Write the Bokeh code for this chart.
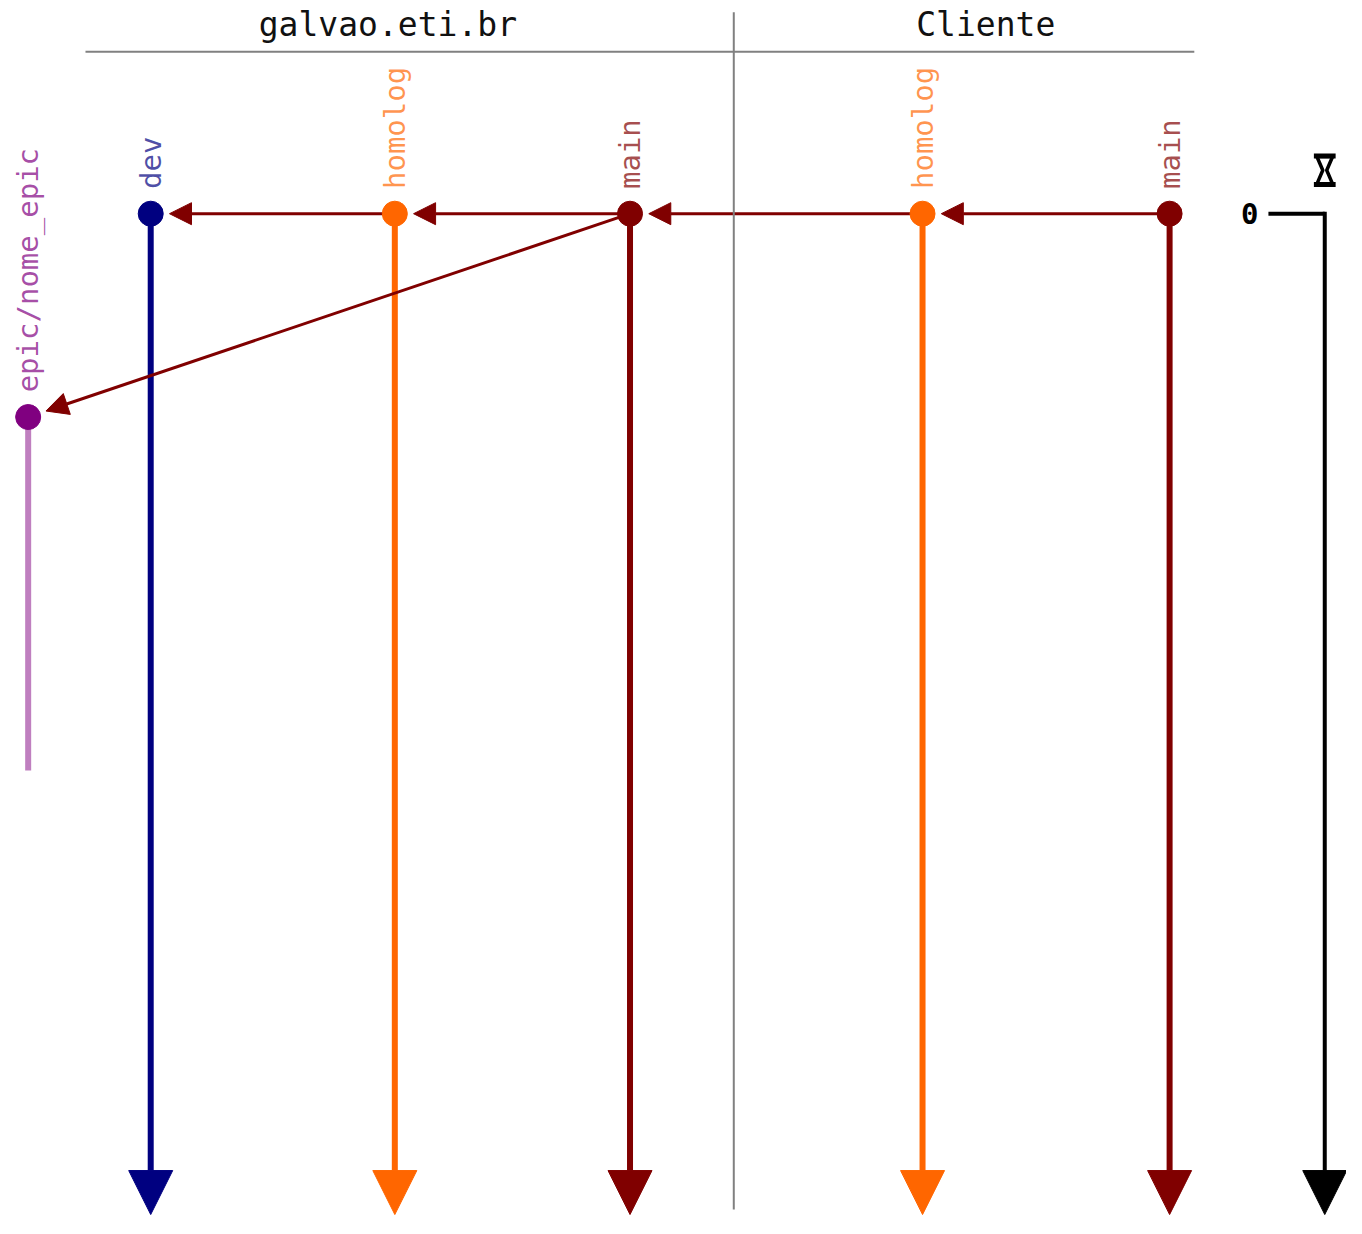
from math import pi
from bokeh.plotting import figure
from bokeh.models import Range1d, Arrow, NormalHead, ColumnDataSource
from bokeh.core.properties import value
from bokeh.embed import file_html
from bokeh.resources import INLINE

# ---- data ----
groups = ["galvao.eti.br", "Cliente"]
group_center_x = [392, 997]
group_span = [(86, 742), (742, 1208)]
separator_x = 742

branches = ["epic/nome_epic", "dev", "homolog", "main", "homolog", "main"]
branch_x = [28, 152, 399, 637, 933, 1183]
branch_colors = ["#800080", "#000080", "#ff6600", "#800000", "#ff6600", "#800000"]
branch_start_t = [2.06, 0.0, 0.0, 0.0, 0.0, 0.0]
branch_end_t = [5.64, 10.14, 10.14, 10.14, 10.14, 10.14]
branch_has_arrow = [False, True, True, True, True, True]

# merges: source branch index -> target branch index
merge_src = [5, 4, 3, 2, 3]
merge_dst = [4, 3, 2, 1, 0]
merge_color = "#800000"

time_ticks = [0]
time_tick_labels = ["0"]
time_axis_x = 1340
time_axis_end_t = 10.14

# ---- figure ----
p = figure(width=1346, height=1218, output_backend="svg", toolbar_location=None,
           x_axis_type=None, y_axis_type=None, min_border=0,
           x_range=Range1d(0, 1362), y_range=Range1d(10.18, -2.16),
           outline_line_color=None, background_fill_color="white")
p.grid.visible = False

MONO = value("DejaVu Sans Mono")

# group headers
for name, cx, (x0, x1) in zip(groups, group_center_x, group_span):
    p.text(x=[cx], y=[-1.92], text=[name], text_font=MONO, text_font_size="33px",
           text_align="center", text_baseline="middle", text_color="#111111")
    p.line(x=[x0, x1], y=[-1.64, -1.64], line_color="#808080", line_width=2)
p.line(x=[separator_x, separator_x], y=[-2.04, 10.09], line_color="#808080", line_width=2)

# branch lines
for x, c, t0, t1, arr in zip(branch_x, branch_colors, branch_start_t, branch_end_t, branch_has_arrow):
    if arr:
        a = Arrow(end=NormalHead(size=44, fill_color=c, line_color=c, line_width=1),
                  x_start=x, y_start=t0, x_end=x, y_end=t1,
                  line_color=c, line_width=6, level="underlay")
        p.add_layout(a)
    else:
        p.line(x=[x, x], y=[t0, t1], line_color=c, line_alpha=0.5, line_width=6)

# merges
for s, d in zip(merge_src, merge_dst):
    xs, ts = branch_x[s], branch_start_t[s]
    xd, td = branch_x[d], branch_start_t[d]
    dx, dy = xs - xd, (ts - td) * 100
    L = (dx ** 2 + dy ** 2) ** 0.5
    off = 19
    xe = xd + dx / L * off
    te = td + dy / L * off / 100
    a = Arrow(end=NormalHead(size=22, fill_color=merge_color, line_color=merge_color, line_width=1),
              x_start=xs, y_start=ts, x_end=xe, y_end=te,
              line_color=merge_color, line_width=3, level="underlay")
    p.add_layout(a)

# commit dots
src = ColumnDataSource(dict(x=branch_x, t=branch_start_t, c=branch_colors))
p.scatter(x="x", y="t", source=src, size=25, fill_color="c", line_color="c", line_width=1)

# branch labels
lab = ColumnDataSource(dict(x=branch_x, t=[t - 0.25 for t in branch_start_t],
                            text=branches, c=branch_colors))
p.text(x="x", y="t", text="text", source=lab, angle=pi / 2, text_font=MONO,
       text_font_size="29px", text_align="left", text_baseline="middle",
       text_color="c", text_alpha=0.7)

# time axis
for t, lbl in zip(time_ticks, time_tick_labels):
    p.line(x=[1283, time_axis_x], y=[t, t], line_color="black", line_width=4)
    p.text(x=[1264], y=[t], text=[lbl], text_font=MONO, text_font_size="29px",
           text_align="center", text_baseline="middle", text_color="black",
           text_font_style="bold")
p.add_layout(Arrow(end=NormalHead(size=44, fill_color="black", line_color="black", line_width=1),
                   x_start=time_axis_x, y_start=time_ticks[0] - 0.02, x_end=time_axis_x, y_end=time_axis_end_t,
                   line_color="black", line_width=4, level="underlay"))

# hourglass icon (time symbol)
hx = time_axis_x
p.line(x=[hx - 11, hx + 11], y=[-0.585, -0.585], line_color="black", line_width=5)
p.line(x=[hx - 11, hx + 11], y=[-0.295, -0.295], line_color="black", line_width=5)
p.patch(x=[hx - 8, hx + 8, hx + 2, hx + 8, hx - 8, hx - 2],
        y=[-0.58, -0.58, -0.44, -0.30, -0.30, -0.44],
        fill_color=None, line_color="black", line_width=3.5, line_join="round")

open("out.html", "w").write(file_html(p, INLINE))
